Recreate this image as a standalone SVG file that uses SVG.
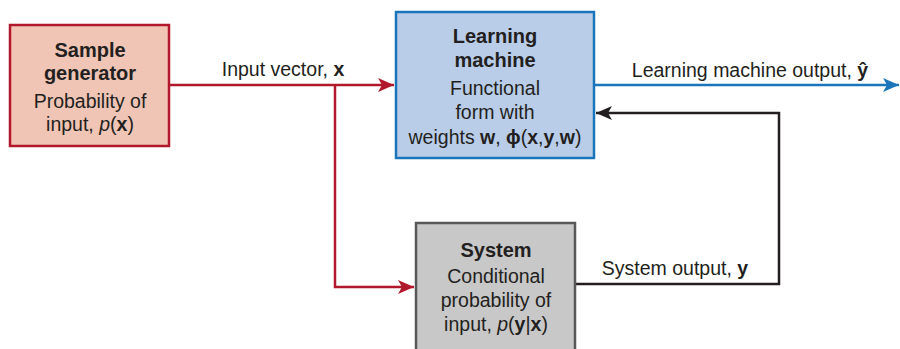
<svg xmlns="http://www.w3.org/2000/svg" width="900" height="349" viewBox="0 0 900 349">
<style>
text{font-family:"Liberation Sans",Arial,sans-serif;fill:#231f20;text-anchor:middle}
.t{font-size:20px;font-weight:bold}
.b{font-size:19.5px}
.l{font-size:19.5px}
.bo{font-weight:bold}
.it{font-style:italic}
.red{stroke:#b2182b;stroke-width:2.5;fill:none}
.blue{stroke:#1b75bb;stroke-width:2.5;fill:none}
.blk{stroke:#231f20;stroke-width:2.5;fill:none}
</style>
<defs>
<marker id="ar" markerUnits="userSpaceOnUse" markerWidth="16" markerHeight="14" refX="16" refY="7" orient="auto"><path d="M0,0 L16,7 L0,14 L4,7 z" fill="#b2182b"/></marker>
<marker id="ab" markerUnits="userSpaceOnUse" markerWidth="16" markerHeight="14" refX="16" refY="7" orient="auto"><path d="M0,0 L16,7 L0,14 L4,7 z" fill="#1b75bb"/></marker>
<marker id="ak" markerUnits="userSpaceOnUse" markerWidth="16" markerHeight="14" refX="16" refY="7" orient="auto"><path d="M0,0 L16,7 L0,14 L4,7 z" fill="#231f20"/></marker>
</defs>
<g id="connectors">
<path class="red" d="M169,85 H394" marker-end="url(#ar)"/>
<path class="red" d="M335,85 V287 H414" marker-end="url(#ar)"/>
<path class="blue" d="M594,85 H899" marker-end="url(#ab)"/>
<path class="blk" d="M575,284 H779 V113 H596" marker-end="url(#ak)"/>
<text class="l" x="283" y="76">Input vector, <tspan class="bo">x</tspan></text>
<text class="l" x="750" y="77">Learning machine output, <tspan class="bo">ŷ</tspan></text>
<text class="l" x="675" y="275">System output, <tspan class="bo">y</tspan></text>
</g>
<g id="sample-generator">
<rect x="10" y="25" width="159" height="121" fill="#f0c5b5" stroke="#b2182b" stroke-width="2.5"/>
<text class="t" x="90" y="57">Sample</text>
<text class="t" x="90" y="80">generator</text>
<text class="b" x="90" y="108">Probability of</text>
<text class="b" x="90" y="131">input, <tspan class="it">p</tspan>(<tspan class="bo">x</tspan>)</text>
</g>
<g id="learning-machine">
<rect x="396" y="12" width="198" height="146" fill="#b9cde9" stroke="#1b75bb" stroke-width="2.5"/>
<text class="t" x="495" y="43">Learning</text>
<text class="t" x="495" y="67">machine</text>
<text class="b" x="495" y="95">Functional</text>
<text class="b" x="495" y="119">form with</text>
<text class="b" x="495" y="144">weights <tspan class="bo">w</tspan>, <tspan class="bo">ϕ</tspan>(<tspan class="bo">x</tspan>,<tspan class="bo">y</tspan>,<tspan class="bo">w</tspan>)</text>
</g>
<g id="system">
<rect x="416" y="223" width="159" height="140" fill="#c8c8c8" stroke="#58585a" stroke-width="2.5"/>
<text class="t" x="496" y="257">System</text>
<text class="b" x="496" y="283">Conditional</text>
<text class="b" x="496" y="307">probability of</text>
<text class="b" x="496" y="331">input, <tspan class="it">p</tspan>(<tspan class="bo">y</tspan>|<tspan class="bo">x</tspan>)</text>
</g>
</svg>
